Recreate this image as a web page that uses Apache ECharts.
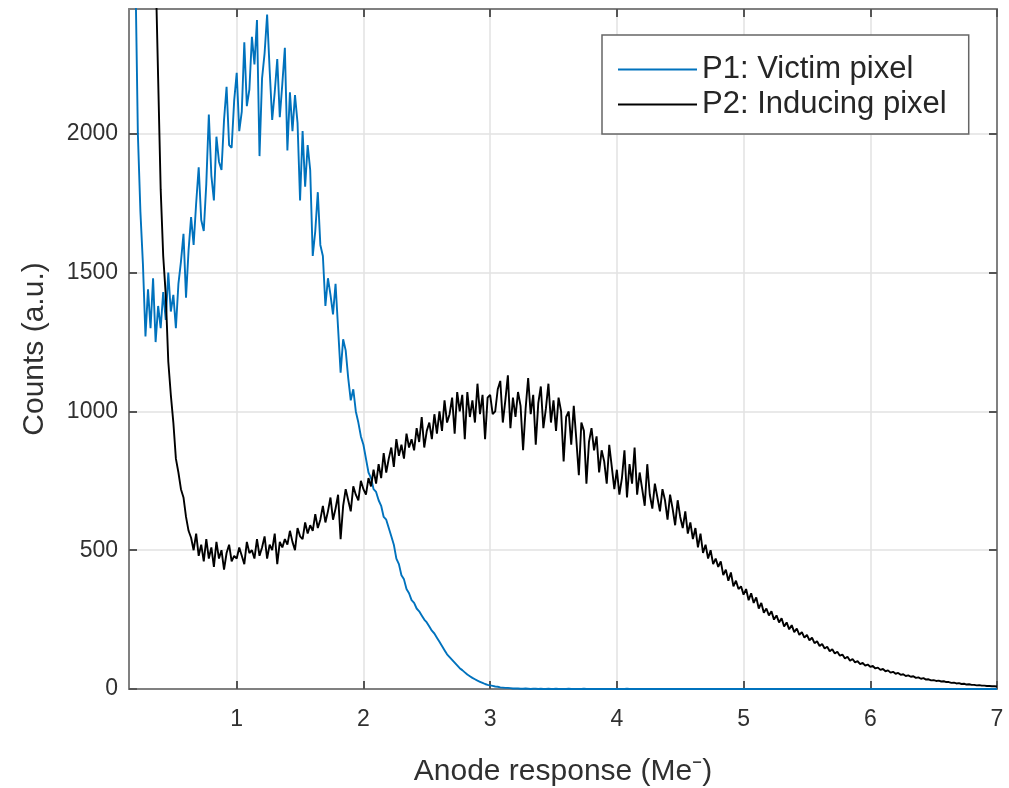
<!DOCTYPE html>
<html><head><meta charset="utf-8">
<script src="https://cdn.jsdelivr.net/npm/echarts@6/dist/echarts.min.js"></script>
<style>html,body{margin:0;padding:0;background:#fff}#c{width:1009px;height:788px}</style>
</head><body><div id="c"></div>
<script>
// sampling grid of the histogram (Me-)
const X_START = 0.2;
const X_STEP = 0.02;
const xTicks = [1, 2, 3, 4, 5, 6, 7];
const yTicks = [0, 500, 1000, 1500, 2000];
const seriesNames = ['P1: Victim pixel', 'P2: Inducing pixel'];

// P1: Victim pixel counts, x = 0.20 ... 7.00 (step 0.02)
const victim = [
  2600,2000,1720,1530,1270,1440,1300,1480,1250,1380,
  1300,1430,1330,1500,1360,1420,1300,1460,1540,1640,
  1410,1580,1700,1600,1750,1880,1690,1650,1820,2070,
  1850,1760,1990,1900,1870,2050,2170,1960,1950,2120,
  2220,2010,2080,2330,2100,2160,2350,2250,2410,1920,
  2200,2290,2430,2230,2050,2150,2270,2060,2180,2310,
  1940,2150,2010,2140,2040,1760,2010,1810,1960,1870,
  1560,1650,1790,1600,1560,1380,1480,1420,1350,1460,
  1300,1140,1260,1220,1120,1040,1080,1000,960,910,
  880,830,780,760,720,710,680,660,620,610,
  580,550,520,470,450,410,395,360,345,320,
  310,290,280,265,250,240,225,210,200,185,
  170,155,140,125,115,105,95,85,75,68,
  60,52,46,40,35,30,26,22,18,15,
  13,11,9,8,6,5,4,4,3,2,
  2,2,1,1,2,1,0,1,1,0,
  1,0,0,1,0,0,1,0,0,0,
  0,1,0,0,0,0,0,1,0,0,
  0,0,0,0,0,0,0,0,0,0,
  0,0,0,0,1,0,0,0,0,0,
  0,0,0,0,0,0,0,0,0,0,
  0,0,0,0,0,0,0,0,0,0,
  0,0,0,0,0,0,0,0,0,0,
  0,0,0,0,0,0,0,0,0,0,
  0,0,0,0,0,0,0,0,0,0,
  0,0,0,0,0,0,0,0,0,0,
  0,0,0,0,0,0,0,0,0,0,
  0,0,0,0,0,0,0,0,0,0,
  0,0,0,0,0,0,0,0,0,0,
  0,0,0,0,0,0,0,0,0,0,
  0,0,0,0,0,0,0,0,0,0,
  0,0,0,0,0,0,0,0,0,0,
  0,0,0,0,0,0,0,0,0,0,
  0,0,0,0,0,0,0,0,0,0,
  0
];

// P2: Inducing pixel counts, x = 0.20 ... 7.00 (step 0.02)
const inducing = [
  6000,5500,5000,4600,4200,3800,3400,3000,2600,2200,
  1800,1560,1420,1180,1060,960,830,780,720,690,
  620,570,545,500,560,480,520,460,540,470,
  510,440,530,470,500,430,490,520,460,480,
  470,510,480,450,530,490,500,470,540,480,
  510,550,470,520,500,560,450,530,510,540,
  520,570,530,500,580,550,540,600,560,590,
  570,630,580,610,660,600,640,690,610,650,
  700,540,660,720,680,640,730,700,680,750,
  720,700,760,730,790,740,810,760,850,780,
  830,870,800,900,840,880,830,920,870,900,
  860,940,890,980,870,930,960,900,990,920,
  1000,930,1040,960,990,1050,920,1070,1000,1060,
  900,1070,980,1040,960,1100,990,1060,900,1050,
  1060,990,1000,1080,1110,960,1040,1130,940,1050,
  980,1070,1020,860,1010,1120,990,1060,880,1030,
  1090,940,1010,1100,960,1040,930,1050,1000,820,
  980,1000,880,1020,900,770,960,930,740,890,
  940,860,910,780,860,820,740,880,800,720,
  790,700,760,860,690,810,740,870,700,780,
  720,660,810,700,650,740,690,640,720,680,
  610,700,650,590,680,620,580,640,560,600,
  540,580,510,560,490,520,470,500,450,470,
  440,460,410,430,390,420,370,390,360,370,
  340,360,320,345,310,330,290,310,275,290,
  265,280,250,265,240,255,225,240,215,230,
  205,218,195,205,185,195,175,185,165,172,
  155,162,146,152,136,143,128,134,120,124,
  110,116,102,108,96,100,90,94,84,88,
  80,83,74,77,69,72,64,67,59,62,
  55,58,51,53,47,49,44,46,40,42,
  37,39,34,35,31,32,29,30,27,28,
  25,25,22,23,20,21,18,19,16,17,
  15,15,13,14,12,12,11,11,10,10,
  9
];

const xs = victim.map((_, i) => +(X_START + i * X_STEP).toFixed(2));
const FONT = '"Liberation Sans", Arial, Helvetica, sans-serif';
const AXIS_COLOR = '#808080';
const TEXT_COLOR = '#303030';

const chart = echarts.init(document.getElementById('c'), null, { renderer: 'canvas' });

const boxAxisCommon = {
  type: 'value',
  axisLine: { show: true, onZero: false, lineStyle: { color: AXIS_COLOR, width: 2 } },
  axisTick: { show: true, inside: true, length: 8, lineStyle: { color: '#555', width: 2 } },
};

chart.setOption({
  animation: false,
  backgroundColor: '#fff',
  textStyle: { fontFamily: FONT },
  grid: { left: 129, right: 12, top: 9, bottom: 99, containLabel: false, outerBoundsMode: 'none' },
  legend: {
    data: seriesNames,
    orient: 'vertical',
    left: 602,
    top: 35,
    icon: 'rect',
    itemWidth: 79,
    itemHeight: 2,
    itemGap: 4,
    padding: [19, 22, 14, 16],
    borderColor: '#666',
    borderWidth: 1.5,
    backgroundColor: '#fff',
    textStyle: { fontSize: 31, color: '#262626', lineHeight: 30, fontFamily: FONT }
  },
  xAxis: [
    Object.assign({}, boxAxisCommon, {
      position: 'bottom', min: 0.15, max: 7,
      axisTick: Object.assign({}, boxAxisCommon.axisTick, { customValues: xTicks }),
      axisLabel: { customValues: xTicks, margin: 19, fontSize: 23, color: TEXT_COLOR, fontFamily: FONT,
                   formatter: v => String(v) },
      splitLine: { show: true, lineStyle: { color: '#e2e2e2', width: 1.5 } },
      name: 'Anode response (Me\u207B)',
      nameLocation: 'middle',
      nameGap: 68,
      nameTextStyle: { fontSize: 30, color: TEXT_COLOR, fontFamily: FONT }
    }),
    Object.assign({}, boxAxisCommon, {
      position: 'top', min: 0.15, max: 7,
      axisTick: Object.assign({}, boxAxisCommon.axisTick, { customValues: xTicks }),
      axisLabel: { show: false },
      splitLine: { show: false }
    })
  ],
  yAxis: [
    Object.assign({}, boxAxisCommon, {
      position: 'left', min: 0, max: 2450,
      axisTick: Object.assign({}, boxAxisCommon.axisTick, { customValues: yTicks }),
      axisLabel: { customValues: yTicks, margin: 11, fontSize: 23, color: TEXT_COLOR, fontFamily: FONT,
                   formatter: v => String(v) },
      splitLine: { show: true, lineStyle: { color: '#e2e2e2', width: 1.5 } },
      name: 'Counts (a.u.)',
      nameLocation: 'middle',
      nameRotate: 90,
      nameGap: 79,
      nameTextStyle: { fontSize: 30, color: TEXT_COLOR, fontFamily: FONT }
    }),
    Object.assign({}, boxAxisCommon, {
      position: 'right', min: 0, max: 2450,
      axisTick: Object.assign({}, boxAxisCommon.axisTick, { customValues: yTicks }),
      axisLabel: { show: false },
      splitLine: { show: false }
    })
  ],
  series: [
    {
      name: seriesNames[0], type: 'line', xAxisIndex: 0, yAxisIndex: 0,
      data: xs.map((x, i) => [x, victim[i]]),
      symbol: 'none', showSymbol: false, clip: true,
      lineStyle: { color: '#0072BD', width: 1.9 },
      itemStyle: { color: '#0072BD' }
    },
    {
      name: seriesNames[1], type: 'line', xAxisIndex: 0, yAxisIndex: 0,
      data: xs.map((x, i) => [x, inducing[i]]),
      symbol: 'none', showSymbol: false, clip: true,
      lineStyle: { color: '#000000', width: 1.9 },
      itemStyle: { color: '#000000' }
    }
  ]
});
</script></body></html>
